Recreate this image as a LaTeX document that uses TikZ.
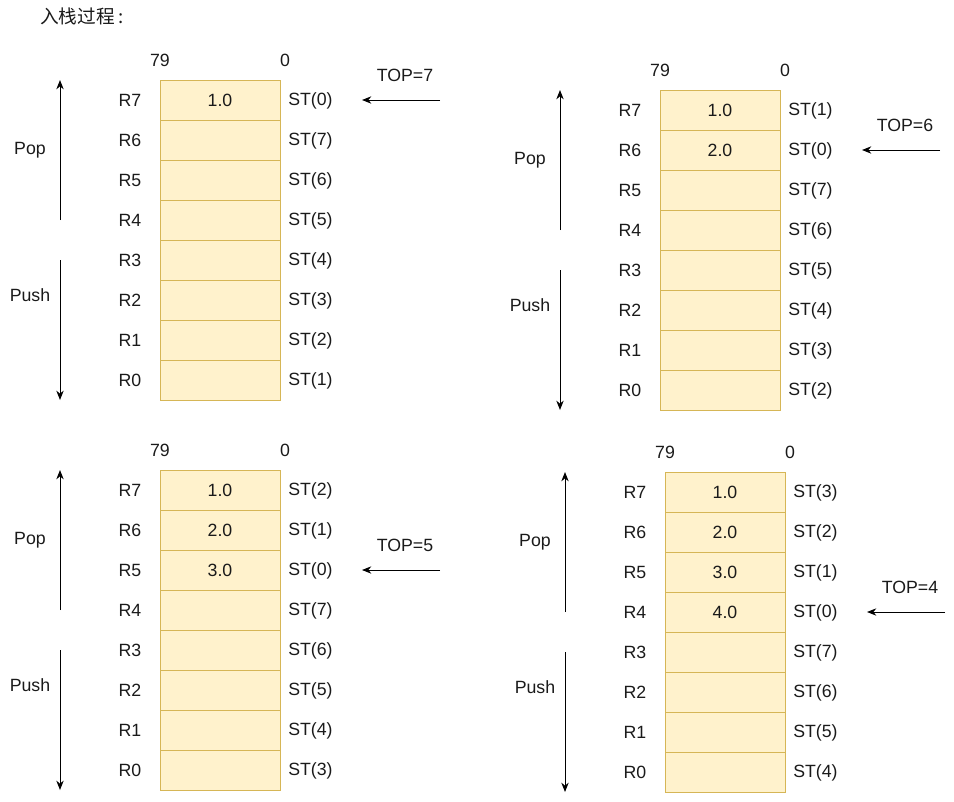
\documentclass[tikz,border=0pt]{standalone}
\usepackage{fontspec}
\setmainfont{Liberation Sans}
\newfontfamily\cjk{Noto Sans CJK SC}
\usetikzlibrary{arrows.meta}
\definecolor{cellfill}{HTML}{FFF2CC}
\definecolor{celldraw}{HTML}{D6B656}
\definecolor{txt}{HTML}{1A1A1A}
\tikzset{
  cell/.style={draw=celldraw, fill=cellfill, line width=0.75pt, minimum width=90pt, minimum height=30pt, inner sep=0pt, font=\fontsize{13.3}{15}\selectfont, text=txt},
  lbl/.style={inner sep=0pt, font=\fontsize{13.3}{15}\selectfont, text=txt},
  arr/.style={-{Stealth[length=7pt,width=5.5pt]}, line width=0.75pt, draw=black},
}
\newcommand\stackpanel[4]{%
  \foreach \i in {0,...,7}{
    \pgfmathtruncatemacro\st{mod(#4-1-\i+8,8)}
    \pgfmathtruncatemacro\rr{7-\i}
    \pgfmathtruncatemacro\vv{\i+1}
    \node[cell] (#3c\i) at ({#1+60}, {#2+20+40*\i}) {\ifnum\i<#4 \vv.0\fi};
    \node[lbl] (#3r\i) at ({#1-30}, {#2+20+40*\i}) {R\rr};
    \node[lbl, anchor=west] (#3s\i) at ({#1+128}, {#2+21+40*\i}) {ST(\st)};
  }
  \node[lbl] (#3h79) at ({#1}, {#2-20}) {79};
  \node[lbl] (#3h0) at ({#1+125}, {#2-20}) {0};
  \coordinate (#3pa) at ({#1-100}, {#2+140});
  \coordinate (#3pb) at ({#1-100}, {#2});
  \draw[arr] (#3pa) -- (#3pb);
  \coordinate (#3qa) at ({#1-100}, {#2+180});
  \coordinate (#3qb) at ({#1-100}, {#2+320});
  \draw[arr] (#3qa) -- (#3qb);
  \node[lbl] (#3pop) at ({#1-130}, {#2+70}) {Pop};
  \node[lbl] (#3push) at ({#1-130}, {#2+215}) {Push};
  \pgfmathtruncatemacro\topn{8-#4}
  \coordinate (#3ta) at ({#1+280}, {#2+20+40*(#4-1)});
  \coordinate (#3tb) at ({#1+202}, {#2+20+40*(#4-1)});
  \draw[arr] (#3ta) -- (#3tb);
  \node[lbl] (#3top) at ({#1+245}, {#2-5+40*(#4-1)}) {TOP=\topn};
}
\begin{document}
\begin{tikzpicture}[x=0.75pt, y=-0.75pt]
  \useasboundingbox (0,0) rectangle (954,801);
  \node[lbl, anchor=west, font=\fontsize{14}{16}\selectfont] (title) at (40,16) {\cjk 入栈过程\,:};
  \stackpanel{160}{80}{a}{1}
  \stackpanel{660}{90}{b}{2}
  \stackpanel{160}{470}{c}{3}
  \stackpanel{665}{472}{d}{4}
\end{tikzpicture}
\end{document}
